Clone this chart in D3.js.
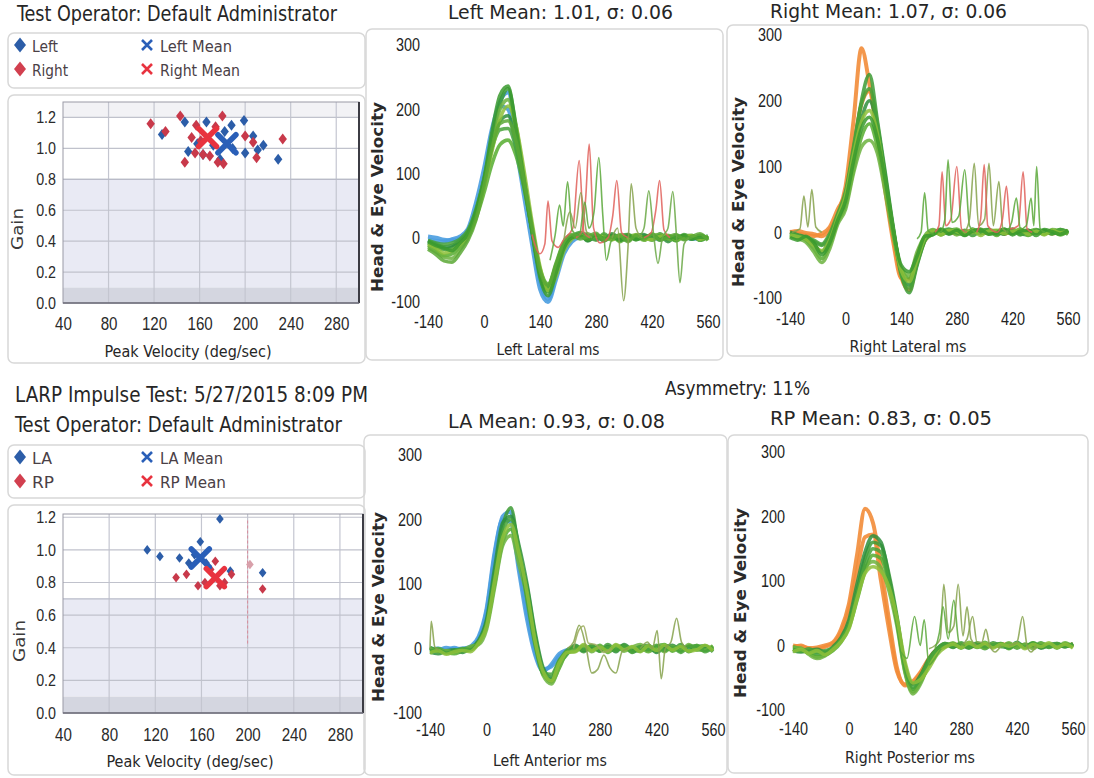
<!DOCTYPE html>
<html>
<head>
<meta charset="utf-8">
<script src="https://cdn.jsdelivr.net/npm/d3@7"></script>
<style>
body { margin: 0; background: #fff; }
svg { display: block; font-family: "Liberation Sans Narrow", "Arial Narrow", "DejaVu Sans Condensed", "Liberation Sans", sans-serif; }
</style>
</head>
<body>
<svg id="chart" width="1094" height="778"></svg>
<script>
// ---- scatter data (peak velocity deg/sec, gain) ----
var velTicks = [40, 80, 120, 160, 200, 240, 280];
var gainTicks = [0, 0.2, 0.4, 0.6, 0.8, 1.0, 1.2];

var leftVel  = [127, 147, 166, 188, 199, 207, 200, 216, 211, 229, 150, 163, 178, 182, 189, 172, 158];
var leftGain = [1.09, 1.17, 1.17, 1.15, 1.18, 1.08, 0.97, 1.02, 0.99, 0.93, 0.98, 0.96, 0.93, 1.11, 1.00, 1.02, 1.03];
var rightVel  = [117, 130, 143, 153, 157, 147, 156, 169, 174, 180, 181, 176, 200, 207, 210, 233, 163, 161];
var rightGain = [1.16, 1.11, 1.21, 1.07, 1.15, 0.91, 0.97, 0.95, 1.14, 1.21, 0.90, 0.91, 1.08, 1.04, 0.94, 1.06, 0.96, 1.05];
var leftMean = [184, 1.03];
var rightMean = [167, 1.07];

var laVel  = [176, 113, 124, 141, 149, 159, 185, 213, 154, 164];
var laGain = [1.19, 1.00, 0.96, 0.95, 0.92, 1.05, 0.87, 0.86, 0.97, 0.92];
var rpVel  = [138, 147, 157, 172, 186, 202, 213, 163, 180, 168, 176];
var rpGain = [0.83, 0.85, 0.78, 0.93, 0.85, 0.91, 0.76, 0.80, 0.80, 0.88, 0.78];
var laMean = [159, 0.95];
var rpMean = [172, 0.83];

// ---- velocity traces (deg/sec), sampled every 20 ms ----
var traceTimes = [-140,-120,-100,-80,-60,-40,-20,0,20,40,60,80,100,120,140,160,180,200,220,240,260,280,300,320,340,360,380,400,420,440,460,480,500,520,540,560];
var msTicks = [-140, 0, 140, 280, 420, 560];
var velAxisTicks = [-100, 0, 100, 200, 300];

// left lateral
var headLL1 = [2,0,-3,-4,-1,8,45, 95,160,212,226,165,88,8,-68,-95,-58,-18, -2,3,-2,1,-3,2,0,-2,3,-1,2,-3,1,-2,2,0,-1,1];
var headLL2 = [-3,-5,-6,-2,2,14,55, 108,170,205,200,140,65,-10,-80,-100,-65,-25, -6,1,3,-2,0,2,-3,1,-1,3,-2,0,2,-1,1,-2,0,2];
var eyeLL1 = [-8,-14,-18,-15,-6,10,42, 92,155,208,232,175,96,14,-58,-84,-52,-14, 2,6,-4,3,-5,4,-2,5,-3,2,-4,6,-3,4,-2,3,-4,2];
var eyeLL2 = [-12,-20,-28,-25,-14,2,30, 70,115,145,152,128,78,12,-48,-72,-45,-12, 0,4,-3,5,-2,3,-6,2,4,-3,5,-2,3,-5,2,4,-3,1];
var eyeLL3 = [-5,-10,-14,-12,-4,8,38, 85,145,182,190,150,85,10,-55,-80,-48,-14, 1,5,-5,2,-3,6,-1,-4,3,5,-2,4,-6,2,3,-2,4,-1];
var eyeLL4 = [-15,-22,-30,-32,-18,0,35, 88,150,200,215,168,92,16,-52,-78,-44,-10, 3,2,6,-2,4,-3,5,-1,2,-4,3,5,-2,-3,4,1,-2,3];
var eyeLL5 = [-4,-8,-10,-8,-2,12,44, 90,140,168,170,140,80,12,-52,-76,-42,-8, 2,8,3,-4,6,-2,3,5,-3,1,-2,3,2,-4,5,-1,3,-2];
var eyeLL6 = [-10,-16,-24,-20,-10,4,32, 78,135,185,205,175,105,25,-45,-82,-60,-20, -2,4,-2,3,1,-3,4,-2,5,-1,-3,2,4,-2,1,3,-2,2];
var eyeLL7 = [-6,-12,-16,-20,-8,6,40, 90,165,222,236,170,90,10,-62,-90,-55,-16, 0,3,-3,4,-1,2,-4,3,-2,1,4,-3,2,-1,3,-2,1,0];
var eyeLL8 = [-18,-26,-36,-38,-24,-4,28, 80,140,178,182,150,88,18,-50,-74,-40,-6, 5,-2,2,7,-4,1,3,-6,4,-2,6,-4,1,5,-3,2,6,-4];
var sacLL1 = [[120,5],[140,-25],[152,-10],[160,57],[170,-5],[185,-15],[200,-2],[222,15],[238,120],[250,8],[265,0]];
var sacLL2 = [[230,0],[245,10],[254,60],[263,146],[274,15],[290,-8],[310,0],[322,35],[332,89],[344,8],[360,0]];
var sacLL3 = [[400,0],[418,8],[430,45],[439,89],[450,12],[465,0]];
var sacLL4 = [[165,-35],[178,5],[189,51],[198,18],[209,87],[220,12],[238,3],[252,55],[262,15],[275,40],[287,125],[297,35],[306,-35],[318,-5],[330,0]];
var sacLL5 = [[320,0],[334,15],[349,-98],[360,-15],[368,84],[380,15],[395,0]];
var sacLL6 = [[385,0],[400,15],[412,73],[424,5],[435,-40],[446,0],[460,15],[472,72],[481,5],[490,-70],[500,-10],[512,0]];
var sacLL7 = [[200,-3],[215,40],[228,15],[242,70],[256,10],[270,0]];

// right lateral
var headRL1 = [0,2,-1,-3,-6,4,28, 70,170,280,225,150,62,-15,-70,-72,-35,-8, 0,2,-1,2,-2,1,0,-1,2,-2,1,0,2,-1,1,-2,0,1];
var headRL2 = [1,-2,-4,-6,-2,8,35, 60,130,195,215,150,68,-8,-68,-88,-45,-12, -2,1,0,-2,1,2,-1,0,1,-2,2,0,-1,1,0,2,-1,0];
var eyeRL1 = [-5,-8,-10,-14,-20,-5,25, 58,125,200,240,170,90,8,-62,-92,-50,-12, 2,-3,4,-2,3,-5,2,4,-3,1,-2,5,-4,2,3,-2,4,-1];
var eyeRL2 = [-3,-6,-12,-25,-40,-20,15, 40,95,145,165,130,70,0,-55,-70,-40,-10, 3,-4,2,5,-3,1,-2,4,-5,3,2,-3,1,4,-2,3,-4,2];
var eyeRL3 = [0,-4,-8,-18,-30,-10,20, 52,115,172,200,160,85,5,-60,-80,-45,-10, -1,4,-3,2,-4,5,-2,3,1,-3,4,-2,-4,3,2,-1,3,-3];
var eyeRL4 = [-6,-10,-15,-30,-46,-25,12, 35,90,130,140,120,60,-5,-55,-65,-30,-5, 4,-2,3,-4,2,-1,5,-3,2,4,-2,3,-5,1,-3,4,2,-2];
var eyeRL5 = [-2,-5,-8,-12,-18,-2,28, 62,130,195,218,165,80,5,-65,-85,-48,-12, -3,2,5,-1,-4,3,-2,4,-3,2,5,-4,3,-1,2,-3,4,1];
var eyeRL6 = [-4,-7,-10,-20,-28,-12,22, 55,118,168,185,150,75,0,-58,-75,-42,-8, 2,-4,3,1,-3,4,-5,2,3,-2,1,4,-3,2,-4,3,-1,2];
var eyeRL7 = [-8,-12,-6,-16,-34,-16,18, 48,108,158,175,142,78,2,-50,-60,-36,-6, -4,5,-2,3,-5,2,4,-3,-1,5,-4,2,3,-5,4,1,-3,3];
var sacRL1 = [[-135,0],[-115,5],[-105,55],[-95,8],[-85,65],[-75,8],[-60,0]];
var sacRL2 = [[180,-10],[190,0],[199,60],[208,2],[222,-3]];
var sacRL3 = [[225,0],[235,10],[243,92],[252,10],[265,20],[280,100],[292,5],[305,0]];
var sacRL4 = [[240,0],[250,20],[258,110],[268,15],[285,25],[300,95],[312,10],[325,0]];
var sacRL5 = [[300,0],[312,20],[324,105],[335,10],[350,20],[361,105],[372,10],[386,77],[396,5],[410,0]];
var sacRL6 = [[330,0],[340,20],[349,103],[358,10],[382,0],[395,20],[405,70],[415,5],[435,10],[447,92],[457,5],[470,0]];
var sacRL7 = [[405,0],[418,15],[430,52],[440,5],[455,10],[467,52],[474,10],[481,100],[490,5],[502,0]];

// left anterior
var headLA1 = [0,-2,1,-1,0,2,15, 58,145,205,212,130,55,-5,-32,-28,-12,-3, 0,2,-1,1,-2,0,1,-1,2,0,-2,1,0,-1,2,-1,0,1];
var headLA2 = [-2,0,-3,1,-2,3,18, 62,150,200,195,120,45,-10,-35,-25,-8,-2, 1,-1,0,2,-2,1,-1,0,1,-2,1,0,2,-1,0,1,-2,0];
var eyeLA1 = [2,-4,-6,-3,-2,0,10, 40,115,190,218,150,90,15,-40,-48,-25,-8, 2,-5,4,-3,6,-2,3,-6,2,5,-4,3,-2,6,-5,2,4,-3];
var eyeLA2 = [-3,0,-5,-8,-4,-2,8, 35,100,165,185,140,95,20,-35,-52,-30,-6, -4,3,-2,5,-6,2,4,-3,1,-5,3,6,-4,2,-3,5,-2,4];
var eyeLA3 = [-6,-8,-4,-2,-6,1,12, 45,125,195,205,160,100,25,-30,-45,-20,-5, 5,-3,2,-4,3,-5,6,-2,-4,3,-6,2,5,-3,4,-2,3,-5];
var eyeLA4 = [0,-5,-3,-6,-2,3,6, 30,95,160,175,130,80,10,-42,-55,-28,-4, -2,4,-5,3,-3,5,-4,2,6,-3,2,-5,3,-4,6,-2,-3,4];
var eyeLA5 = [-4,-2,-7,-4,0,-2,10, 38,110,180,200,155,75,5,-38,-40,-18,-2, 3,-2,5,-4,2,-3,4,-5,3,-2,5,-3,2,-6,3,4,-5,2];
var eyeLA6 = [-7,-3,-9,-5,-3,-5,8, 34,105,172,192,148,88,12,-36,-50,-22,-6, -5,6,-3,2,-4,6,-2,3,-5,4,-3,5,-2,3,-4,-2,5,-4];
var sacLA1 = [[-140,0],[-137,42],[-128,2],[-118,-2]];
var sacLA2 = [[200,0],[215,10],[229,36],[245,5],[260,-38],[275,-32],[290,-10],[305,-30],[320,-38],[335,-5],[350,0]];
var sacLA3 = [[380,0],[398,10],[410,0],[422,28],[432,-47],[442,0],[456,10],[470,47],[482,10],[495,0]];
var sacLA4 = [[215,0],[228,28],[240,35],[252,8],[270,6],[290,-6],[310,0]];

// right posterior
var headRP1 = [0,-2,-4,-3,0,5,25, 65,140,212,190,120,40,-35,-62,-58,-42,-24, -8,2,-1,1,-2,0,1,-1,2,-1,0,1,-2,1,0,-1,1,0];
var headRP2 = [-3,0,-5,-6,-2,3,20, 55,115,168,172,100,25,-40,-60,-55,-40,-20, -6,-1,2,0,-2,1,0,-1,1,2,-1,0,1,-2,0,1,-1,2];
var eyeRP1 = [-5,-8,-10,-14,-12,-5,10, 35,85,135,160,155,110,45,-35,-68,-50,-25, -8,2,-3,4,-2,3,-5,2,-1,3,-4,2,-2,4,-3,1,-2,3];
var eyeRP2 = [-2,-6,-12,-18,-15,-8,5, 28,70,115,140,135,95,35,-40,-72,-55,-30, -10,0,3,-4,2,-3,5,-2,3,-5,2,-1,4,-3,2,-4,3,-1];
var eyeRP3 = [-8,-10,-8,-6,-10,-2,12, 40,95,145,170,160,105,40,-30,-60,-45,-20, -5,3,-2,1,-4,2,-3,4,-1,-3,5,-2,3,-4,1,3,-2,2];
var eyeRP4 = [-3,-4,-14,-20,-16,-6,8, 30,75,120,130,120,85,30,-42,-75,-58,-28, -8,-2,4,-3,5,-1,-4,3,-2,4,-3,2,-5,3,1,-2,4,-3];
var eyeRP5 = [-6,-9,-5,-10,-8,-4,10, 32,80,125,150,145,100,38,-35,-65,-48,-22, -6,3,-1,2,-3,4,-2,1,3,-4,2,-3,4,-1,-2,3,-1,2];
var eyeRP6 = [-10,-6,-12,-8,-14,-6,6, 26,72,112,122,115,90,42,-25,-58,-52,-35, -14,-3,2,-3,4,-2,3,-4,2,-1,3,-5,2,-2,4,-3,2,-4];
var sacRP1 = [[130,-10],[145,-20],[164,45],[178,0],[188,40],[200,-30],[215,-20],[230,-5]];
var sacRP2 = [[200,-5],[215,0],[228,10],[237,95],[248,20],[262,30],[273,95],[285,15],[295,60],[305,10],[318,0]];
var sacRP3 = [[280,0],[295,10],[309,45],[320,5],[332,5],[342,25],[352,0],[365,-10],[380,0]];
var sacRP4 = [[400,0],[420,5],[434,45],[445,0],[455,-10],[468,0]];
var sacRP5 = [[215,-5],[226,20],[235,60],[248,10],[262,70],[275,5],[290,0]];

var svg = d3.select("#chart");
var blueHead = "#4a9de0", orangeHead = "#f28c38", sacRed = "#e0605a", olive = "#86a24c";
var greens = ["#3d9b35", "#56ad2f", "#2f8f3c", "#6cb33f", "#47a23a", "#8dbf3a", "#3a9a2e", "#5aa835"];

function txt(str, x, y, size, width, o) {
    o = o || {};
    var t = svg.append("text").attr("x", x).attr("y", y)
        .style("font-size", size + "px")
        .attr("fill", o.fill || "#262626")
        .text(str);
    if (o.anchor) t.attr("text-anchor", o.anchor);
    if (o.weight) t.style("font-weight", o.weight);
    if (width) t.attr("textLength", width).attr("lengthAdjust", "spacingAndGlyphs");
    if (o.rotate) t.attr("transform", "rotate(-90," + x + "," + y + ")");
    return t;
}

// squeeze tick labels to the narrow face used in the report
function narrow(sel, k) {
    sel.each(function() {
        var w = this.getComputedTextLength();
        d3.select(this).attr("textLength", w * k).attr("lengthAdjust", "spacingAndGlyphs");
    });
}

function frame(x, y, w, h) {
    svg.append("rect").attr("x", x).attr("y", y).attr("width", w).attr("height", h)
        .attr("rx", 6).attr("fill", "none").attr("stroke", "#d8d8d8").attr("stroke-width", 1.5);
}

function diamondPath(hw, hh) {
    return "M0," + (-hh) + "L" + hw + ",0L0," + hh + "L" + (-hw) + ",0Z";
}
function crossPath(r) {
    return "M" + (-r) + "," + (-r) + "L" + r + "," + r + "M" + r + "," + (-r) + "L" + (-r) + "," + r;
}

function legend(y0, labels) {
    var rows = [[labels[0], "#2c5da8", "#2a5fb8", labels[2]], [labels[1], "#d2404f", "#e8333f", labels[3]]];
    rows.forEach(function(r, i) {
        var cy = y0 + i * 24;
        svg.append("path").attr("d", diamondPath(6, 7.5)).attr("transform", "translate(20," + cy + ")").attr("fill", r[1]);
        txt(r[0][0], 32, cy + 7, 16, r[0][1], {fill: "#4a4046"});
        svg.append("path").attr("d", crossPath(5)).attr("transform", "translate(147," + cy + ")")
            .attr("stroke", r[2]).attr("stroke-width", 2.6).attr("fill", "none");
        txt(r[3][0], 160, cy + 7, 16, r[3][1], {fill: "#4a4046"});
    });
}

function scatterChart(c) {
    var x = d3.scaleLinear().domain([40, 300]).range(c.xr);
    var y = d3.scaleLinear().domain([0, c.yMax]).range(c.yr);
    var g = svg.append("g");
    var pw = c.xr[1] - c.xr[0];

    g.append("rect").attr("x", c.xr[0]).attr("y", y(c.normal)).attr("width", pw)
        .attr("height", y(0.1) - y(c.normal)).attr("fill", "#e9eaf4");
    g.append("rect").attr("x", c.xr[0]).attr("y", y(0.1)).attr("width", pw)
        .attr("height", y(0) - y(0.1)).attr("fill", "#d4d6e0");
    if (c.yMax > 1.25) {
        g.append("rect").attr("x", c.xr[0]).attr("y", y(c.yMax)).attr("width", pw)
            .attr("height", y(1.2) - y(c.yMax)).attr("fill", "#f2f2f5");
    }

    g.selectAll(null).data(velTicks.slice(1)).join("line")
        .attr("x1", d => x(d)).attr("x2", d => x(d))
        .attr("y1", y(c.yMax)).attr("y2", y(0))
        .attr("stroke", "#c4c6d0").attr("stroke-width", 1.2);
    g.selectAll(null).data(gainTicks.slice(1)).join("line")
        .attr("x1", c.xr[0]).attr("x2", c.xr[1])
        .attr("y1", d => y(d)).attr("y2", d => y(d))
        .attr("stroke", "#c0c2cc").attr("stroke-width", 1.2);
    g.append("line").attr("x1", c.xr[0]).attr("x2", c.xr[1]).attr("y1", y(c.normal)).attr("y2", y(c.normal))
        .attr("stroke", "#b9bbc8").attr("stroke-width", 1.2);

    if (c.marker) {
        g.append("line").attr("x1", x(c.marker)).attr("x2", x(c.marker))
            .attr("y1", y(1.18)).attr("y2", y(0.42))
            .attr("stroke", "#d98c9c").attr("stroke-width", 1).attr("stroke-dasharray", "3,2");
    }

    g.append("rect").attr("x", c.xr[0]).attr("y", y(c.yMax)).attr("width", pw).attr("height", y(0) - y(c.yMax))
        .attr("fill", "none").attr("stroke", "#9a9aa6").attr("stroke-width", 1);
    g.append("line").attr("x1", c.xr[1]).attr("x2", c.xr[1]).attr("y1", y(c.yMax)).attr("y2", y(0))
        .attr("stroke", "#3c3c44").attr("stroke-width", 2);
    g.append("line").attr("x1", c.xr[0]).attr("x2", c.xr[1]).attr("y1", y(0)).attr("y2", y(0))
        .attr("stroke", "#6c6c78").attr("stroke-width", 1.5);

    var ax = g.append("g").attr("transform", "translate(0," + y(0) + ")")
        .call(d3.axisBottom(x).tickValues(velTicks).tickSize(0).tickPadding(c.xPad).tickFormat(d => String(d)));
    ax.select(".domain").remove();
    ax.selectAll("text").style("font-size", "18px").attr("fill", "#2a2a2a").style("font-family", null);
    narrow(ax.selectAll("text"), 0.84);
    var ay = g.append("g").attr("transform", "translate(" + c.xr[0] + ",0)")
        .call(d3.axisLeft(y).tickValues(gainTicks).tickSize(0).tickPadding(7).tickFormat(d3.format(".1f")));
    ay.select(".domain").remove();
    ay.selectAll("text").style("font-size", "17px").attr("fill", "#2a2a2a").style("font-family", null);
    narrow(ay.selectAll("text"), 0.84);

    var dHead = diamondPath(c.dot[0], c.dot[1]);
    g.selectAll(null).data(d3.range(c.aVel.length)).join("path")
        .attr("d", dHead).attr("transform", i => "translate(" + x(c.aVel[i]) + "," + y(c.aGain[i]) + ")")
        .attr("fill", "#2c5da8");
    g.selectAll(null).data(d3.range(c.bVel.length)).join("path")
        .attr("d", dHead).attr("transform", i => "translate(" + x(c.bVel[i]) + "," + y(c.bGain[i]) + ")")
        .attr("fill", (i) => (c.paleB === i ? "#d8a0aa" : "#c8394a"));

    [[c.aMean, "#2a5fb8"], [c.bMean, "#e8333f"]].forEach(function(m) {
        g.append("path").attr("d", crossPath(c.cross))
            .attr("transform", "translate(" + x(m[0][0]) + "," + y(m[0][1]) + ")")
            .attr("stroke", m[1]).attr("stroke-width", 5.5).attr("stroke-linecap", "round").attr("fill", "none");
    });

    txt("Gain", c.gainPos[0], c.gainPos[1], 15, 42, {anchor: "middle", rotate: true, fill: "#3a3a3a"});
    txt("Peak Velocity (deg/sec)", (c.xr[0] + c.xr[1]) / 2 - 23, c.titleY, 16, 167, {anchor: "middle", fill: "#262626"});
}

function traceChart(c) {
    var x = d3.scaleLinear().domain([-140, 560]).range(c.xr);
    var y = d3.scaleLinear().domain([-100, 300]).range(c.yr);
    var line = d3.line().x(d => x(d[0])).y(d => y(d[1])).curve(d3.curveMonotoneX);
    var g = svg.append("g");

    var ax = g.append("g").attr("transform", "translate(0," + c.yr[0] + ")")
        .call(d3.axisBottom(x).tickValues(msTicks).tickSize(0).tickPadding(c.xPad).tickFormat(d => String(d)));
    ax.select(".domain").remove();
    ax.selectAll("text").style("font-size", "18px").attr("fill", "#222").style("font-family", null);
    narrow(ax.selectAll("text"), 0.8);
    var ay = g.append("g").attr("transform", "translate(" + c.xr[0] + ",0)")
        .call(d3.axisLeft(y).tickValues(velAxisTicks).tickSize(0).tickPadding(8).tickFormat(d => String(d)));
    ay.select(".domain").remove();
    ay.selectAll("text").style("font-size", "18px").attr("fill", "#222").style("font-family", null);
    narrow(ay.selectAll("text"), 0.8);

    c.heads.forEach(function(vals) {
        g.append("path").attr("d", line(traceTimes.map((t, i) => [t, vals[i]])))
            .attr("fill", "none").attr("stroke", c.headColor).attr("stroke-width", 4).attr("opacity", 0.9);
    });
    c.eyes.forEach(function(vals, k) {
        g.append("path").attr("d", line(traceTimes.map((t, i) => [t, vals[i]])))
            .attr("fill", "none").attr("stroke", greens[k % greens.length]).attr("stroke-width", 3.6).attr("opacity", 0.85);
    });
    c.sacs.forEach(function(s) {
        g.append("path").attr("d", line(s[0]))
            .attr("fill", "none").attr("stroke", s[1]).attr("stroke-width", 1.6).attr("opacity", 0.85);
    });

    txt("Head & Eye Velocity", c.yTitle[0], c.yTitle[1], 16, 190, {anchor: "middle", rotate: true, weight: "bold", fill: "#2a2a2a"});
    txt(c.xTitle, c.xTitlePos[0], c.xTitlePos[1], 16, c.xTitleW, {anchor: "middle", fill: "#262626"});
}

// frames
frame(8, 33, 357, 55);
frame(8, 95, 357, 268);
frame(8, 445, 357, 53);
frame(8, 505, 357, 270);
frame(366, 29, 357, 331);
frame(727, 25, 361, 331);
frame(364, 435, 363, 340);
frame(728, 435, 360, 338);

// top half
scatterChart({xr: [63, 359], yr: [303, 102], yMax: 1.3, normal: 0.8, xPad: 14, dot: [4.2, 5.5], cross: 9,
    aVel: leftVel, aGain: leftGain, bVel: rightVel, bGain: rightGain, aMean: leftMean, bMean: rightMean,
    gainPos: [23, 229], titleY: 357});
legend(45, [["Left", 26], ["Right", 36], ["Left Mean", 72], ["Right Mean", 80]]);

traceChart({xr: [428, 708], yr: [302, 45], xPad: 13, headColor: blueHead,
    heads: [headLL1, headLL2], eyes: [eyeLL1, eyeLL2, eyeLL3, eyeLL4, eyeLL5, eyeLL6, eyeLL7, eyeLL8],
    sacs: [[sacLL1, sacRed], [sacLL2, sacRed], [sacLL3, sacRed], [sacLL4, "#5aa83a"], [sacLL5, olive], [sacLL6, "#6aa845"], [sacLL7, olive]],
    yTitle: [383, 197], xTitle: "Left Lateral ms", xTitlePos: [548, 355], xTitleW: 103});

traceChart({xr: [790, 1068], yr: [298, 35], xPad: 14, headColor: orangeHead,
    heads: [headRL1, headRL2], eyes: [eyeRL1, eyeRL2, eyeRL3, eyeRL4, eyeRL5, eyeRL6, eyeRL7],
    sacs: [[sacRL1, olive], [sacRL2, "#5aa83a"], [sacRL3, sacRed], [sacRL4, "#5aa83a"], [sacRL5, olive], [sacRL6, sacRed], [sacRL7, "#5aa83a"]],
    yTitle: [744, 192], xTitle: "Right Lateral ms", xTitlePos: [908, 352], xTitleW: 117});

// bottom half
scatterChart({xr: [63, 363], yr: [713, 514], yMax: 1.22, normal: 0.7, xPad: 15, dot: [3.8, 4.8], cross: 9, marker: 200, paleB: 5,
    aVel: laVel, aGain: laGain, bVel: rpVel, bGain: rpGain, aMean: laMean, bMean: rpMean,
    gainPos: [25, 641], titleY: 767});
legend(457, [["LA", 20], ["RP", 22], ["LA Mean", 63], ["RP Mean", 66]]);

traceChart({xr: [430, 713], yr: [713, 455], xPad: 10, headColor: blueHead,
    heads: [headLA1, headLA2], eyes: [eyeLA1, eyeLA2, eyeLA3, eyeLA4, eyeLA5, eyeLA6],
    sacs: [[sacLA1, olive], [sacLA2, olive], [sacLA3, olive], [sacLA4, "#9aaa5a"]],
    yTitle: [384, 607], xTitle: "Left Anterior ms", xTitlePos: [550, 766], xTitleW: 114});

traceChart({xr: [793, 1073], yr: [710, 452], xPad: 12, headColor: orangeHead,
    heads: [headRP1, headRP2], eyes: [eyeRP1, eyeRP2, eyeRP3, eyeRP4, eyeRP5, eyeRP6],
    sacs: [[sacRP1, "#5aa83a"], [sacRP2, olive], [sacRP3, olive], [sacRP4, olive], [sacRP5, "#5aa83a"]],
    yTitle: [746, 603], xTitle: "Right Posterior ms", xTitlePos: [910, 763], xTitleW: 130});

// header text
txt("Test Operator:  Default Administrator", 17, 21, 21, 320);
txt("Left Mean:  1.01,  \u03c3:  0.06", 448, 19, 20, 225);
txt("Right Mean:  1.07,  \u03c3:  0.06", 770, 18, 20, 237);

txt("LARP Impulse Test:  5/27/2015 8:09 PM", 15, 402, 21, 353);
txt("Test Operator:  Default Administrator", 15, 432, 21, 327);
txt("Asymmetry:  11%", 665, 395, 20, 145);
txt("LA Mean:  0.93,  \u03c3:  0.08", 448, 428, 20, 217);
txt("RP Mean:  0.83,  \u03c3:  0.05", 770, 425, 20, 222);
</script>
</body>
</html>
